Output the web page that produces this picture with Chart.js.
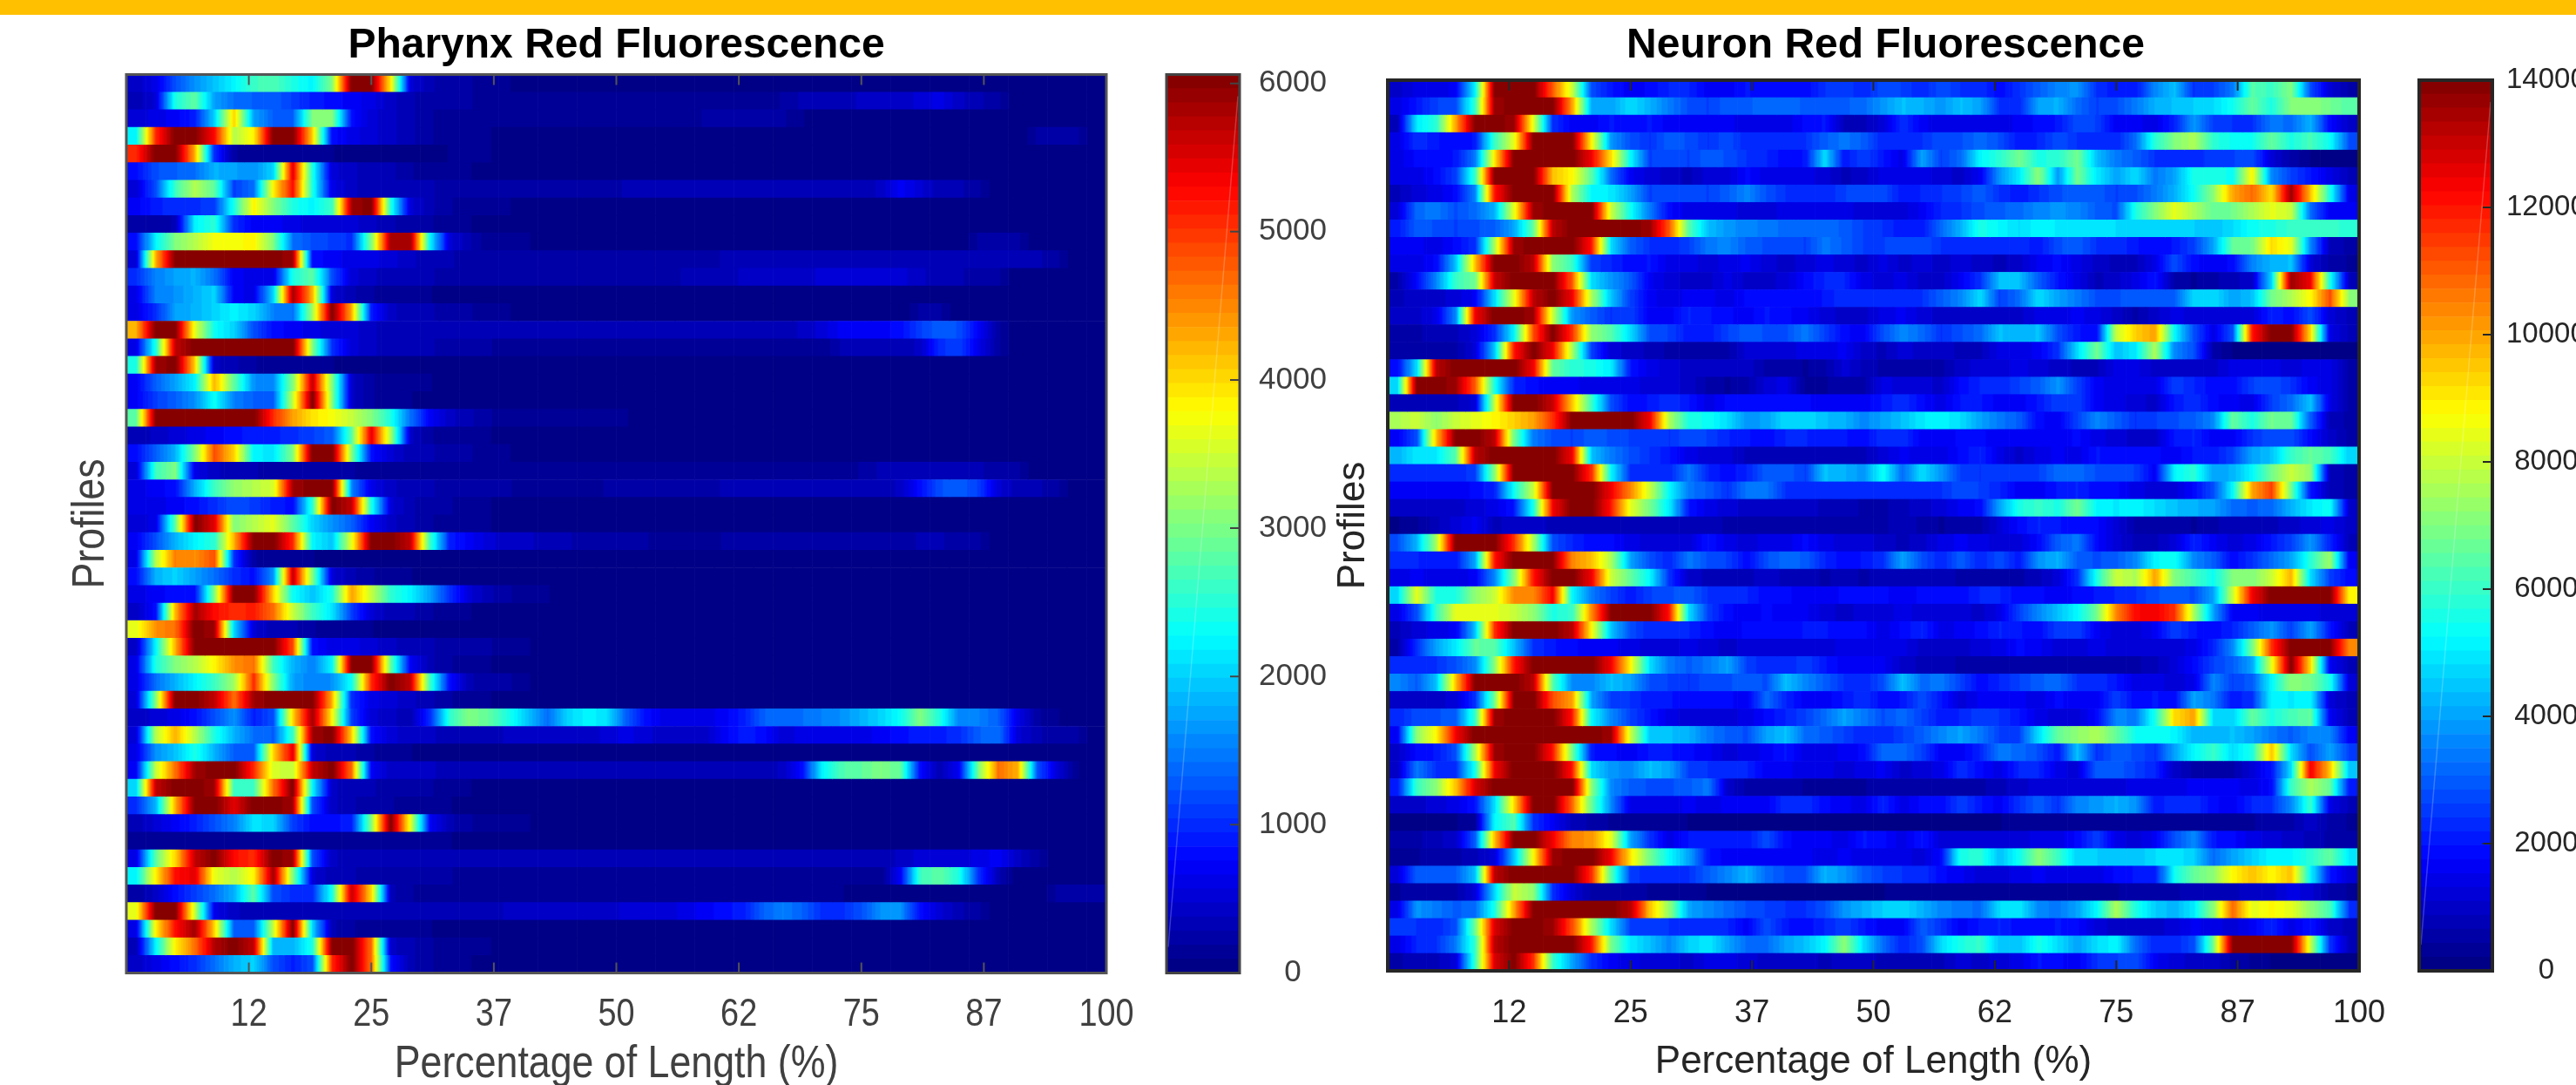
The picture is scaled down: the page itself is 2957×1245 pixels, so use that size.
<!DOCTYPE html>
<html>
<head>
<meta charset="utf-8">
<title>Red Fluorescence</title>
<script src="https://cdn.jsdelivr.net/npm/chart.js"></script>
<style>
  html, body { margin: 0; background: #fff; overflow: hidden; }
  #page { position: relative; width: 2957px; height: 1245px; overflow: hidden; }
  #bar { position: absolute; left: 0; top: 0; width: 2957px; height: 17px; background: #ffc000; z-index: 5; }
  canvas { position: absolute; top: 0; }
</style>
</head>
<body>
<div id="page">
  <div id="bar"></div>
  <canvas id="pharynx" width="1415" height="1245" style="left:0"></canvas>
  <canvas id="pharynxBar" width="200" height="1245" style="left:1330px"></canvas>
  <canvas id="neuron" width="1328" height="1245" style="left:1500px"></canvas>
  <canvas id="neuronBar" width="187" height="1245" style="left:2770px"></canvas>
</div>
<script>
// x axis labels, the file rounds 12.5 down to 12 etc
const lengthTicks = [12, 25, 37, 50, 62, 75, 87, 100];
const pharynxBarTicks = [0, 1000, 2000, 3000, 4000, 5000, 6000];
const neuronBarTicks = [0, 2000, 4000, 6000, 8000, 10000, 12000, 14000];
const columnCount = 50;

// one row per profile, one cell per 2% of length, in units of 100 counts (colour bar 0-6000)
// rows stop where the picture goes flat navy, the rest counts as 0
const pharynxRows = [
[4,6,12,16,19,22,26,27,24,22,30,60,60,38,5,3,2,2,1,1],
[3,5,24,28,17,14,13,13,11,9,8,7,6,4,3,2,2,2,1,1,1,1,1,1,1,1,1,1,1,1,1,1,1,2,3,3,3,4,4,4,5,6,4,3,2],
[5,6,7,9,20,40,17,13,13,30,30,8,5,4,3,2,1,1,1,1,1,1,1,1,1,1,1,1,1,2,2,2,2,2,1],
[22,50,60,60,52,33,38,60,60,40,8,6,5,4,3,2,1,1,1,0,0,0,0,0,0,0,0,0,0,0,0,0,0,0,0,0,0,0,0,0,0,0,0,0,0,0,2,2,2],
[50,60,60,42,10,2,1,1,1,1,1,0,0,0,0,0,1,1,1],
[8,12,13,14,18,17,16,20,54,24,5,4,3,3,2,1,1,1],
[5,12,26,33,28,11,14,38,52,24,6,4,3,3,3,3,2,2,2,2,2,2,2,2,2,3,3,3,3,3,3,3,3,3,3,3,3,3,4,7,5,3,3,2],
[7,9,10,10,11,24,38,30,24,22,26,58,60,24,5,3,2,1,1,1],
[2,2,3,22,25,10,7,7,6,5,5,5,4,3,2,2,1,1],
[8,22,30,33,37,37,38,30,14,12,11,10,30,58,58,22,5,3,1,1,1,0,0,0,0,0,0,0,0,0,0,0,0,0,0,0,0,0,0,0,0,0,0,2,2,2],
[5,42,60,60,60,60,60,60,58,8,7,6,6,5,4,3,3,2,2,2,2,2,2,2,2,2,2,2,2,2,3,3,3,3,3,3,3,3,3,3,3,3,3,3,3,3,3,2],
[10,15,17,18,14,7,6,6,24,28,12,5,4,3,3,3,2,2,2,2,2,2,2,2,2,2,2,2,3,3,3,4,4,4,4,5,5,5,5,5,4,3,3,2,2],
[6,15,16,18,20,7,6,20,58,42,5,3,2,1,1,1],
[6,10,17,18,20,22,20,15,14,32,60,42,9,4,3,3,2,2,1,1,0,0,0,0,0,0,0,0,0,0,0,0,0,0,0,0,0,0,0,0,2,2],
[42,60,60,36,23,20,12,8,7,6,5,5,4,3,3,3,3,3,3,3,3,3,3,3,3,3,3,3,3,3,3,3,3,3,4,5,7,7,7,8,11,13,12,7,2],
[6,24,56,60,60,60,60,60,60,30,10,5,4,3,3,3,2,2,2,1,1,1,1,1,1,1,1,1,1,1,1,1,1,1,1,1,3,3,3,3,4,10,11,6,2],
[24,58,60,40,4,3,2,1,1,1,1],
[7,13,17,22,42,28,16,15,30,56,30,4,2,1,1,1],
[7,11,13,16,23,15,13,13,34,60,30,4,2,1,1],
[28,60,60,60,60,60,60,50,43,39,37,34,30,24,14,7,4,3,2,1,1,1,1,1,1,1],
[3,4,5,6,7,8,9,9,10,11,13,28,54,32,4,2,1,1,1],
[8,13,18,30,48,40,22,21,30,60,60,30,8,5,3,3,2,2,1,1],
[5,26,30,6,4,3,3,2,2,2,2,2,1,1,1,1,1,1,1,1,1,1,1,1,1,1,1,1,1,1,1,1,1,1,1,1,1,2,3,3,3,3,3,3,2,2],
[6,7,8,18,26,31,33,35,58,60,60,15,6,4,3,3,2,2,2,2,1,1,1,1,2,2,2,2,2,2,3,3,3,3,3,3,3,3,3,4,8,12,13,11,5,3,3,2],
[6,6,7,8,10,12,11,9,8,25,60,56,24,5,3,2,2,1,1],
[5,6,28,60,54,30,33,36,28,20,16,13,7,4,3,2,1,1,1],
[7,12,18,22,25,42,60,60,50,22,19,36,60,60,56,26,9,7,5,4,4,3,3,2,2,2,2,1,1,1,2,2,2,2,2,2,2,2,2,2,3,3,2,2],
[6,33,45,44,48,10,2,1,1,1],
[8,18,20,17,14,10,8,16,56,30,5,3,2,1,1],
[6,7,8,8,30,60,60,40,23,19,24,43,34,25,22,17,10,5,3,2,1,1],
[4,8,42,58,52,50,51,46,34,26,21,11,5,3,3,2,1,1],
[36,44,46,60,58,20,5,3,3,2,1,1,1],
[4,22,42,60,60,60,60,60,48,8,6,6,5,4,3,3,2,2,2,1,1],
[6,24,30,33,38,44,46,26,18,15,22,60,60,28,7,3,2,1,1],
[6,14,18,22,26,32,50,30,17,15,16,23,50,60,56,26,8,3,2,2,1],
[5,30,60,60,56,46,58,60,60,60,42,10,6,5,4,3,2,1,1],
[4,5,6,8,12,16,9,12,40,58,38,11,5,4,3,10,25,30,28,24,19,14,20,22,21,13,8,6,6,6,7,9,13,14,14,15,16,18,20,23,30,24,15,15,13,6,2,1],
[5,33,42,33,24,18,14,13,26,58,60,40,8,5,4,4,3,3,3,4,4,4,4,4,5,6,5,4,4,4,7,9,8,5,6,6,6,6,7,8,9,9,10,13,14,5,3,2,2],
[6,16,19,24,18,13,13,40,54,5,3,3,2,1,1],
[7,34,46,58,60,60,50,35,34,56,60,46,7,4,4,4,3,3,3,3,3,3,3,3,3,3,3,3,3,3,3,3,3,4,8,22,27,28,30,28,8,3,7,30,46,42,12,5,1],
[20,56,60,60,58,26,26,46,60,22,4,3,3,2,2,2,1,1],
[10,18,42,60,60,54,60,60,58,12,4,3,2,2,1,1,1],
[3,5,7,9,12,15,21,20,11,8,8,9,30,60,36,7,3,2,1,1,1],
[1,1,1,1,1,1,1,1,1,1,1,1,1,1,1,1,1],
[6,28,40,56,60,52,50,60,58,12,4,3,3,3,3,3,3,3,3,3,3,3,3,3,3,3,3,3,3,3,3,3,3,3,3,3,3,3,3,4,5,5,5,6,7,4,2],
[22,38,52,54,36,33,38,58,30,5,3,3,2,2,2,2,2,1,1,1,1,1,1,1,1,1,1,1,1,1,1,1,1,1,1,1,1,1,1,7,26,28,24,10,3],
[2,4,8,11,14,18,28,12,10,10,24,56,40,3,2,1,1,1,1,1,1,1,1,1,1,1,1,1,1,1,1,1,1,1,1,1,1,0,0,0,0,0,0,0,0,0,0,2,2,2],
[36,60,60,34,6,4,3,3,3,3,3,3,3,3,3,3,3,3,3,4,4,4,4,4,4,5,5,5,6,7,8,9,13,15,13,10,10,12,16,16,8,5,3,2],
[6,38,52,58,40,13,13,34,60,20,3,2,1,1,1,1],
[3,22,38,46,57,60,56,18,18,24,60,60,46,4,3,2,1,1,1],
[4,6,8,10,14,18,20,12,9,12,50,60,46,8,3,2,1,1]
];

// same grid for the neuron panel, in units of 200 counts (colour bar 0-14000)
const neuronRows = [
[5,7,7,8,26,70,70,70,55,40,14,10,8,9,11,11,8,8,10,9,9,9,12,13,11,14,13,11,14,12,12,9,12,15,18,19,12,10,10,18,22,12,13,17,32,30,35,14,6,3],
[7,10,13,14,30,68,70,70,70,50,20,20,24,21,17,14,13,15,15,16,16,15,15,15,16,19,22,21,19,22,20,12,11,20,21,16,13,14,17,21,22,23,24,27,33,28,35,36,34,32],
[4,25,29,50,70,70,68,42,12,8,8,10,9,10,8,8,8,8,7,7,7,9,10,4,4,6,12,8,7,7,7,7,8,9,10,14,13,8,8,7,11,19,13,12,12,17,16,21,9,5],
[7,12,10,9,10,30,42,70,70,70,44,19,14,12,15,14,12,14,11,11,11,12,15,17,15,11,11,12,14,14,16,14,10,11,14,12,11,11,16,29,35,38,29,27,27,33,28,31,27,14],
[7,9,9,10,17,45,70,70,70,70,62,46,26,13,14,13,15,14,12,11,9,10,24,10,13,10,7,20,13,16,26,29,34,28,29,34,22,17,15,12,11,11,13,13,14,6,3,1,1,1],
[7,7,9,13,30,70,70,70,48,44,32,16,8,6,5,4,6,6,9,7,7,7,6,4,5,7,7,7,6,5,8,19,25,36,19,34,25,20,24,17,20,28,28,27,44,18,13,10,7,4],
[4,6,7,9,18,60,70,70,70,38,26,25,20,13,14,14,13,15,18,14,12,11,11,13,14,14,10,11,12,13,15,12,10,12,14,15,15,13,14,17,21,27,36,50,54,46,68,48,28,7],
[6,16,17,14,16,21,42,68,70,70,70,40,27,17,9,7,7,7,6,6,7,7,7,7,6,6,6,8,11,12,14,15,16,18,19,18,15,14,28,35,42,38,33,34,38,42,40,16,8,8],
[10,15,14,13,14,15,20,33,66,70,70,70,70,68,55,32,22,19,18,17,16,16,16,15,13,12,10,10,16,21,28,26,24,26,25,25,25,24,24,24,24,23,22,24,27,28,30,30,30,29],
[8,8,7,9,12,38,68,70,70,70,60,24,15,12,11,13,17,18,15,14,14,13,17,15,13,13,14,14,12,11,12,12,12,10,14,15,12,12,10,9,10,13,20,33,34,46,42,18,4,3],
[7,7,9,22,48,70,70,66,36,30,13,11,9,10,7,7,6,7,8,6,5,6,7,6,5,7,5,6,5,6,5,4,5,8,9,7,5,4,4,7,14,9,8,9,18,21,22,6,3,2],
[3,9,18,30,34,65,70,70,70,55,24,19,15,8,6,5,5,7,5,5,6,9,11,11,7,6,7,5,5,8,12,22,22,15,10,7,4,5,7,10,3,2,3,4,5,24,68,62,28,4],
[4,5,5,6,8,24,42,66,70,62,38,22,13,8,7,8,8,7,9,9,9,9,10,12,12,11,11,12,15,18,24,13,16,24,20,17,14,14,15,15,15,24,24,20,22,34,38,44,56,36],
[5,5,7,18,62,70,70,68,40,19,15,12,13,8,8,11,10,9,8,10,9,8,6,5,5,7,8,6,5,5,5,5,5,7,7,8,7,5,3,5,7,6,6,6,6,11,9,14,6,4],
[3,3,4,4,6,12,26,56,70,58,36,32,24,14,13,10,10,13,15,14,14,17,13,9,8,14,18,16,12,14,16,22,21,22,14,10,9,40,47,50,26,14,7,14,60,70,70,46,7,4],
[3,3,3,3,6,22,60,70,62,38,13,6,5,4,3,3,3,3,6,6,6,7,7,8,5,4,6,5,5,4,4,7,7,8,12,24,34,22,25,38,18,14,3,1,1,1,1,0,0,0],
[9,24,66,70,70,70,70,62,33,29,28,25,10,7,6,5,5,5,5,3,3,2,3,6,4,3,3,3,3,5,6,6,7,6,5,4,4,7,7,5,5,5,5,7,7,7,6,7,7,3],
[24,70,70,68,55,28,11,9,8,8,7,7,7,6,6,5,3,2,3,6,7,2,2,3,3,7,6,6,5,9,11,11,13,15,19,13,8,7,7,7,13,11,9,9,13,14,12,8,7,3],
[4,4,4,4,6,40,70,70,65,48,30,14,9,10,12,10,7,9,9,9,9,9,8,8,8,10,12,9,7,10,10,8,8,10,13,13,8,7,6,5,10,12,9,8,7,13,16,22,7,3],
[38,40,36,40,42,44,47,50,58,70,70,70,70,62,38,28,27,24,19,20,24,24,22,21,18,20,22,25,26,24,20,17,15,9,8,13,18,15,12,13,14,15,18,33,28,34,33,15,4,3],
[8,14,48,70,70,66,34,17,14,13,15,14,13,13,12,14,13,11,10,9,11,11,10,10,9,12,12,8,8,9,9,8,8,8,8,9,7,6,5,5,10,11,8,8,12,14,14,9,5,3],
[21,25,25,32,66,70,70,70,70,62,22,17,14,12,10,7,6,6,4,4,4,4,4,4,4,6,8,7,7,9,11,7,5,7,8,7,10,9,9,9,8,10,10,13,20,22,30,33,31,23],
[11,11,11,11,13,36,70,70,70,70,58,26,12,11,11,17,11,9,11,15,15,13,22,21,19,27,16,24,19,13,12,13,13,13,16,16,14,14,13,8,26,29,20,21,26,34,40,36,4,3],
[8,8,8,8,9,11,27,40,70,70,70,62,52,40,26,17,15,12,17,17,12,11,11,11,11,11,11,12,12,14,13,11,8,8,10,11,9,9,7,6,6,9,14,26,50,57,34,10,4,3],
[5,5,5,5,6,7,10,28,62,70,70,60,42,34,25,10,7,6,5,5,5,5,4,4,3,3,4,5,6,8,9,20,28,30,28,34,26,25,26,24,22,21,20,16,15,16,21,25,27,5],
[1,2,4,6,8,4,5,5,4,4,4,4,4,4,4,4,4,3,3,3,3,3,3,3,3,3,4,3,2,3,3,6,9,11,10,9,9,6,3,3,3,2,3,4,4,4,5,6,7,5],
[14,21,38,70,70,70,58,38,14,11,9,9,7,6,6,6,10,7,6,7,7,9,7,6,6,5,4,5,7,8,7,6,6,9,15,17,9,6,4,4,6,11,8,6,7,10,13,19,11,4],
[11,11,10,10,20,60,70,70,70,52,48,38,20,14,11,17,14,13,9,14,16,15,11,9,10,12,20,14,11,15,11,14,10,19,21,15,14,15,18,26,27,18,15,9,12,16,20,29,37,8],
[7,8,7,7,8,18,35,60,70,70,62,40,33,26,12,5,4,4,4,5,4,4,3,4,3,4,4,4,4,3,3,3,3,4,6,12,28,40,38,50,35,31,27,35,35,40,49,24,13,9],
[24,42,28,28,36,40,52,52,62,26,17,13,10,13,14,15,12,12,11,9,9,8,8,9,9,9,8,9,9,9,11,11,9,9,8,9,10,11,12,14,15,14,20,40,62,70,70,70,70,44],
[7,14,30,42,42,42,40,36,28,30,52,70,70,70,60,24,13,9,8,9,8,8,6,5,6,6,7,6,6,6,5,7,13,18,22,26,34,52,61,62,58,38,20,8,8,7,7,7,6,6],
[4,6,7,8,22,58,70,70,70,66,44,22,14,11,11,11,9,8,9,9,9,10,10,9,9,7,9,11,7,8,9,11,10,9,13,13,8,6,6,8,13,10,9,11,15,19,13,20,10,4],
[3,12,20,25,33,32,22,12,10,9,8,8,7,6,6,7,6,5,6,6,6,6,6,7,7,7,7,5,5,5,6,7,9,8,6,6,7,6,6,6,6,7,11,18,34,58,70,70,70,52],
[11,12,12,14,18,36,60,70,70,70,70,62,44,24,17,15,17,20,13,11,11,13,10,8,8,8,5,4,4,3,3,3,3,3,3,3,3,3,3,4,6,9,13,15,20,42,70,46,8,4],
[18,15,22,48,70,70,70,66,32,18,18,22,20,14,13,12,14,14,15,14,22,18,15,12,11,14,22,16,17,13,9,11,13,15,16,12,12,10,7,7,6,7,18,13,15,26,36,34,28,6],
[5,5,5,6,12,34,70,70,56,50,20,13,12,10,10,9,9,9,8,16,11,8,8,10,12,9,10,14,10,6,8,8,8,7,9,8,8,13,9,10,9,20,17,10,12,26,25,26,6,4],
[11,14,14,15,30,68,70,70,70,60,26,18,13,10,7,6,6,6,7,9,11,13,16,20,17,14,16,13,10,11,13,12,10,7,6,6,9,18,17,28,46,50,24,23,33,28,31,33,8,4],
[8,36,44,62,70,70,70,70,70,70,70,68,40,22,22,21,17,15,14,20,22,16,15,13,11,11,13,15,18,20,17,13,13,24,33,36,38,33,27,27,26,21,21,22,20,17,15,18,18,8],
[5,9,10,14,38,68,70,70,60,34,10,9,8,10,10,9,8,6,7,8,10,7,7,8,9,16,16,13,8,8,11,17,16,14,10,22,12,15,14,12,20,26,30,24,28,48,24,14,20,13],
[5,17,12,12,28,62,70,70,70,60,24,19,18,22,20,13,12,11,11,8,8,7,7,6,7,8,5,6,7,12,9,7,11,11,7,6,15,15,13,11,5,3,3,3,6,10,24,62,48,22],
[10,30,36,48,64,70,70,70,70,70,36,18,15,14,14,15,17,5,3,3,3,2,2,2,2,3,3,3,3,3,3,4,5,6,6,6,6,6,7,7,7,8,8,8,7,9,30,38,33,10],
[5,5,6,7,10,24,46,70,70,54,33,18,7,7,7,8,7,8,8,8,12,12,9,8,7,11,7,9,9,13,10,8,12,15,12,18,19,21,19,10,12,12,9,8,11,12,18,30,7,4],
[1,1,1,1,2,26,32,12,8,4,3,2,2,2,2,1,1,1,1,1,1,1,1,1,1,1,1,1,1,1,1,1,2,2,2,2,2,2,2,2,2,2,2,2,2,3,3,5,3,2],
[3,3,4,5,15,48,70,70,62,52,51,42,20,12,7,10,10,10,10,14,9,8,8,7,10,9,7,10,6,6,6,6,6,7,7,9,13,7,6,8,14,18,10,9,7,6,5,4,3,3],
[2,2,3,3,4,6,22,44,68,70,70,62,45,34,26,20,10,8,8,8,8,8,7,8,7,7,7,6,9,28,29,22,27,36,30,23,23,22,22,24,25,23,16,20,23,26,26,29,33,25],
[6,15,15,15,22,66,70,70,70,70,58,32,13,11,12,12,15,18,21,16,14,14,21,19,15,13,12,12,9,8,6,6,7,8,7,7,7,9,10,10,27,33,36,44,48,44,48,26,10,6],
[2,3,3,3,6,24,40,36,12,6,3,3,3,2,2,2,1,1,1,1,1,1,1,1,1,1,2,2,2,2,2,2,2,2,2,2,2,2,3,3,3,4,4,4,5,5,7,6,3,2],
[7,19,17,15,16,28,50,70,70,70,70,70,66,48,36,20,18,16,14,13,12,12,14,19,21,23,24,21,18,17,16,24,25,18,17,20,26,38,28,23,21,25,36,54,42,44,42,36,31,12],
[13,12,11,14,34,64,70,70,68,56,38,24,13,13,12,12,11,11,8,14,10,9,11,13,10,8,8,15,12,8,10,11,9,9,10,9,6,5,5,5,6,8,7,6,8,11,7,10,5,4],
[7,11,12,17,30,66,70,70,70,70,60,34,25,22,18,23,25,20,16,16,20,22,26,36,24,16,11,14,24,28,30,22,22,28,24,20,24,26,16,11,11,14,34,70,70,70,70,40,12,4],
[3,4,4,6,30,64,70,58,30,20,12,8,7,6,6,5,7,7,6,5,5,5,4,5,5,4,4,4,4,6,5,6,7,10,9,8,12,13,14,8,6,5,5,3,2,1,1,1,1,1]
];

const pharynxMax = 60;
const neuronMax = 70;

// MATLAB jet, 64 steps
function jet(t) {
  const i = Math.min(63, Math.max(0, Math.floor(t * 64)));
  const v = (i + 0.5) / 64;
  const c = x => Math.round(255 * Math.max(0, Math.min(1, x)));
  const r = c(Math.min(4 * v - 1.5, -4 * v + 4.5));
  const g = c(Math.min(4 * v - 0.5, -4 * v + 3.5));
  const b = c(Math.min(4 * v + 0.5, -4 * v + 2.5));
  return `rgb(${r},${g},${b})`;
}

// the figure is shaded across each row, so a cell fades towards its neighbours
function cellFill(c, rows, max, k) {
  if (!c.raw) return jet(0);
  const row = rows[c.dataIndex];
  const v = row[k] || 0;
  const prev = k > 0 ? row[k - 1] || 0 : v;
  const next = k < columnCount - 1 ? row[k + 1] || 0 : v;
  const sc = c.chart.scales.x;
  const w = 100 / columnCount;
  const x0 = sc.getPixelForValue(k * w);
  const x1 = sc.getPixelForValue((k + 1) * w);
  // scales are not laid out yet on the first pass
  if (!isFinite(x0) || !isFinite(x1) || x0 === x1) return jet(v / max);
  const g = c.chart.ctx.createLinearGradient(x0, 0, x1, 0);
  for (let s = 0; s <= 16; s++) {
    const p = s / 16;
    const val = p < 0.5 ? (prev + v) / 2 + (v - prev) * p : v + (next - v) * (p - 0.5);
    g.addColorStop(p, jet(val / max));
  }
  return g;
}

// frame and the inward ticks MATLAB draws
const frameTicks = {
  id: 'frameTicks',
  afterLayout(chart, args, o) {
    if (o.titleShift) chart.titleBlock.left += o.titleShift;
  },
  afterDatasetsDraw(chart, args, o) {
    const { ctx, chartArea: a, scales } = chart;
    ctx.save();
    ctx.strokeStyle = o.color;
    ctx.lineWidth = o.tickWidth;
    ctx.beginPath();
    if (o.heat) {
      scales.x.ticks.forEach((t, i) => {
        const px = scales.x.getPixelForTick(i);
        ctx.moveTo(px, a.top); ctx.lineTo(px, a.top + o.tickLen);
        ctx.moveTo(px, a.bottom); ctx.lineTo(px, a.bottom - o.tickLen);
      });
    } else {
      scales.y.ticks.forEach((t, i) => {
        const py = scales.y.getPixelForTick(i);
        ctx.moveTo(a.right, py); ctx.lineTo(a.right - o.tickLen, py);
      });
    }
    ctx.stroke();
    if (!o.heat) {
      // faint diagonal that is in the exported colour bars
      ctx.strokeStyle = 'rgba(255,255,255,0.22)';
      ctx.lineWidth = 1.5;
      ctx.beginPath();
      ctx.moveTo(a.left + 2, a.bottom - 30);
      ctx.lineTo(a.right - 2, a.top + 25);
      ctx.stroke();
    }
    ctx.strokeStyle = o.color;
    ctx.lineWidth = o.frame;
    ctx.strokeRect(a.left, a.top, a.right - a.left, a.bottom - a.top);
    ctx.restore();
  }
};

// no narrow font on the box, so squeeze the regular text along its reading direction
function squeezeText(canvas, factor) {
  const ctx = canvas.getContext('2d');
  const fill = ctx.fillText.bind(ctx);
  ctx.fillText = (t, x, y) => {
    if (ctx.font.includes('bold')) return fill(t, x, y);
    ctx.save();
    ctx.translate(x, y);
    ctx.scale(factor, 1);
    fill(t, 0, 0);
    ctx.restore();
  };
}

function heatmap(id, rows, max, cfg) {
  const labels = rows.map((r, i) => 'P' + (i + 1));
  const datasets = [];
  for (let k = 0; k < columnCount; k++) {
    datasets.push({
      data: rows.map((r, i) => ({ x: 100 / columnCount, y: labels[i], v: r[k] || 0 })),
      backgroundColor: c => cellFill(c, rows, max, k),
      borderWidth: 0,
      barPercentage: 1,
      categoryPercentage: 1
    });
  }
  const canvas = document.getElementById(id);
  if (cfg.squeeze) squeezeText(canvas, cfg.squeeze);
  new Chart(canvas, {
    type: 'bar',
    plugins: [frameTicks],
    data: { labels, datasets },
    options: {
      indexAxis: 'y',
      responsive: false,
      animation: false,
      events: [],
      layout: { padding: { left: 0, right: cfg.padRight, top: 0, bottom: 0 } },
      plugins: {
        legend: { display: false },
        tooltip: { enabled: false },
        title: {
          display: true,
          fullSize: false,
          text: cfg.title,
          color: '#000',
          font: { family: 'Liberation Sans', size: cfg.titleSize, weight: 'bold', lineHeight: 60 / cfg.titleSize },
          padding: cfg.titlePad
        },
        frameTicks: { heat: true, color: cfg.frameColor, frame: cfg.frame, tickWidth: 2, tickLen: 12, titleShift: cfg.titleShift }
      },
      scales: {
        x: {
          stacked: true,
          type: 'linear',
          min: 0,
          max: 100,
          grid: { display: false },
          border: { display: false },
          ticks: {
            stepSize: 12.5,
            autoSkip: false,
            maxRotation: 0,
            padding: cfg.tickPad,
            color: cfg.textColor,
            font: { family: 'Liberation Sans', size: cfg.tickSize },
            callback: (v, i) => (i === 0 ? '' : lengthTicks[i - 1])
          },
          title: {
            display: true,
            text: 'Percentage of Length (%)',
            color: cfg.textColor,
            font: { family: 'Liberation Sans', size: cfg.labelSize },
            padding: { top: 0, bottom: cfg.xTitleBottom }
          },
          afterFit: s => { s.height = 1245 - cfg.bottom; s.paddingLeft = 0; s.paddingRight = 0; }
        },
        y: {
          stacked: true,
          grid: { display: false },
          border: { display: false },
          ticks: { display: false },
          title: {
            display: true,
            text: 'Profiles',
            color: cfg.textColor,
            font: { family: 'Liberation Sans', size: cfg.labelSize },
            padding: { top: cfg.yTitlePad, bottom: 0 }
          },
          afterFit: s => { s.width = cfg.left; }
        }
      }
    }
  });
}

function colorbar(id, scaleMax, tickValues, cfg) {
  const bands = [];
  for (let i = 0; i < 64; i++) {
    bands.push({
      data: [scaleMax / 64],
      backgroundColor: jet((i + 0.5) / 64),
      borderWidth: 0,
      barPercentage: 1,
      categoryPercentage: 1
    });
  }
  new Chart(document.getElementById(id), {
    type: 'bar',
    plugins: [frameTicks],
    data: { labels: [''], datasets: bands },
    options: {
      responsive: false,
      animation: false,
      events: [],
      layout: { padding: { left: cfg.left, right: 0, top: cfg.top, bottom: 1245 - cfg.bottom } },
      plugins: {
        legend: { display: false },
        tooltip: { enabled: false },
        frameTicks: { heat: false, color: cfg.frameColor, frame: cfg.frame, tickWidth: 2, tickLen: 11 }
      },
      scales: {
        x: { stacked: true, display: false },
        y: {
          stacked: true,
          position: 'right',
          min: 0,
          max: scaleMax,
          grid: { display: false },
          border: { display: false },
          afterBuildTicks: s => { s.ticks = tickValues.map(v => ({ value: v })); },
          ticks: {
            crossAlign: 'center',
            padding: cfg.tickPad,
            color: cfg.textColor,
            font: { family: 'Liberation Sans', size: cfg.tickSize },
            callback: v => String(v)
          },
          afterFit: s => { s.width = cfg.axisWidth; }
        }
      }
    }
  });
}

heatmap('pharynx', pharynxRows, pharynxMax, {
  title: 'Pharynx Red Fluorescence', titleSize: 48, titlePad: { top: 23, bottom: 2.5 },
  left: 145, padRight: 145, bottom: 1116.5, frameColor: '#555', frame: 3, squeeze: 0.86,
  textColor: '#404040', tickSize: 44, labelSize: 52,
  tickPad: 14, xTitleBottom: -8, yTitlePad: 73
});
colorbar('pharynxBar', 6060, pharynxBarTicks, {
  left: 9, top: 85.5, bottom: 1116.5, axisWidth: 107, tickPad: 14, tickSize: 35,
  frameColor: '#444', frame: 3, textColor: '#404040'
});
heatmap('neuron', neuronRows, neuronMax, {
  title: 'Neuron Red Fluorescence', titleSize: 48, titlePad: { top: 23, bottom: 9 }, titleShift: 28,
  left: 93, padRight: 120, bottom: 1114, frameColor: '#262626', frame: 4,
  textColor: '#262626', tickSize: 36, labelSize: 44,
  tickPad: 19, xTitleBottom: 0, yTitlePad: 27
});
colorbar('neuronBar', 14000, neuronBarTicks, {
  left: 7, top: 92, bottom: 1114, axisWidth: 96, tickPad: 8, tickSize: 33,
  frameColor: '#262626', frame: 4, textColor: '#262626'
});
</script>
</body>
</html>
